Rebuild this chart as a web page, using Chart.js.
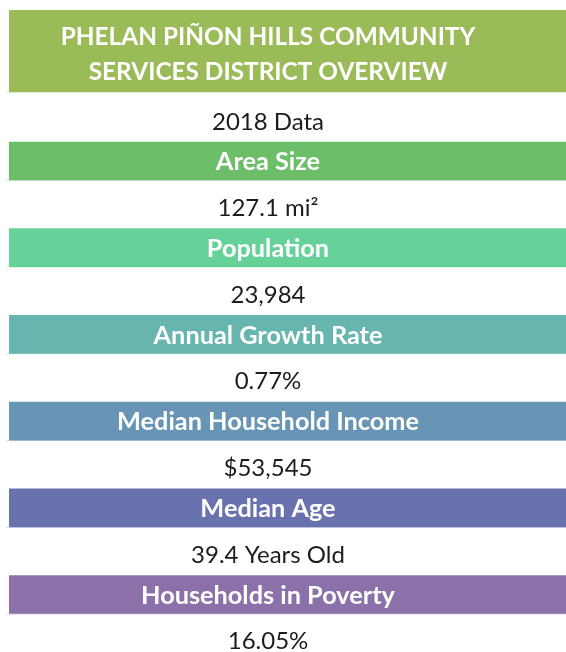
<!DOCTYPE html>
<html><head><meta charset="utf-8">
<script src="https://cdn.jsdelivr.net/npm/chart.js@4/dist/chart.umd.min.js"></script>
<style>html,body{margin:0;padding:0;background:#fff;overflow:hidden}#wrap{width:566px;height:652px;position:relative}</style>
</head><body><div id="wrap"><canvas id="c"></canvas></div>
<script>
const titleLines = ['PHELAN PIÑON HILLS COMMUNITY', 'SERVICES DISTRICT OVERVIEW'];
const subtitle = '2018 Data';
const categories = ['Area Size', 'Population', 'Annual Growth Rate', 'Median Household Income', 'Median Age', 'Households in Poverty'];
const valueLabels = ['127.1 mi²', '23,984', '0.77%', '$53,545', '39.4 Years Old', '16.05%'];
const bandFill = [1, 1, 1, 1, 1, 1];
const bandColors = ['#6DBE69', '#66D29A', '#66B5AE', '#6895B5', '#6A71AF', '#8A71AA'];
const titleColor = '#9BBB59';

const TEXT_X = 268;
const infoPlugin = {
  id: 'info',
  beforeDatasetsDraw(chart) {
    const ctx = chart.ctx, a = chart.chartArea;
    ctx.save();
    ctx.fillStyle = titleColor;
    ctx.fillRect(a.left, 10, a.right - a.left, 82);
    ctx.globalAlpha = 0.3;
    ctx.fillRect(6, 92, a.right - 6, 1);
    ctx.globalAlpha = 1;
    ctx.fillStyle = '#ffffff';
    ctx.font = 'bold 24.4px Lato';
    ctx.textAlign = 'center';
    ctx.textBaseline = 'alphabetic';
    ctx.fillText(titleLines[0], TEXT_X, 45);
    ctx.fillText(titleLines[1], TEXT_X, 80);
    ctx.fillStyle = '#1c1c1c';
    ctx.font = '24px Lato';
    ctx.fillText(subtitle, TEXT_X, 129.5);
    ctx.restore();
  },
  afterDatasetsDraw(chart) {
    const ctx = chart.ctx, a = chart.chartArea;
    const meta = chart.getDatasetMeta(0);
    ctx.save();
    ctx.textAlign = 'center';
    ctx.textBaseline = 'alphabetic';
    meta.data.forEach((bar, i) => {
      const bottom = bar.y + bar.height / 2;
      ctx.globalAlpha = 0.3;
      ctx.fillStyle = bandColors[i];
      ctx.fillRect(6, bottom, a.right - 6, 1);
      ctx.globalAlpha = 1;
      ctx.fillStyle = '#ffffff';
      ctx.font = 'bold 25.3px Lato';
      ctx.fillText(categories[i], TEXT_X, bar.y + 9.2);
      ctx.fillStyle = '#1c1c1c';
      ctx.font = '24px Lato';
      ctx.fillText(valueLabels[i], TEXT_X, bar.y + 46 + 8.8);
    });
    ctx.restore();
  }
};

new Chart(document.getElementById('c'), {
  type: 'bar',
  data: {
    labels: categories,
    datasets: [{
      data: bandFill,
      backgroundColor: bandColors,
      borderWidth: 0,
      barThickness: 38,
      categoryPercentage: 1
    }]
  },
  options: {
    indexAxis: 'y',
    responsive: true,
    maintainAspectRatio: false,
    animation: false,
    layout: { padding: { top: 117.65, bottom: 14.15, left: 9, right: 0 } },
    scales: {
      x: { display: false, min: 0, max: 1 },
      y: { display: false }
    },
    plugins: { legend: { display: false }, tooltip: { enabled: false }, title: { display: false } }
  },
  plugins: [infoPlugin]
});
</script>
</body></html>
